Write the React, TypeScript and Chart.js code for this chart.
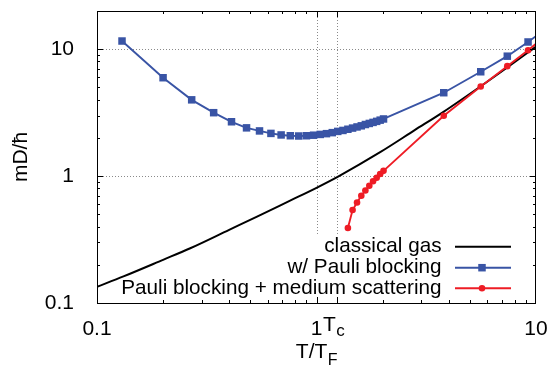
import { useEffect, useRef } from 'react';
import { Chart, registerables } from 'chart.js';

Chart.register(...registerables);

// ---- data ----
const TC = 1.24; // critical temperature marker (T/T_F)
const GUIDE_Y_MIN = 0.35; // lower end of the dotted guide lines
const X_MIN = 0.1;
const X_MAX = 10;
const Y_MIN = 0.1;
const Y_MAX = 20;
const xTickLabels = [0.1, 1, 10];
const yTickLabels = [0.1, 1, 10];

const classicalT = [0.1, 0.132, 0.2, 0.266, 0.4, 0.536, 0.75, 1.0, 1.26, 1.95, 2.8, 3.79, 5.57, 7.42, 10];
const classicalD = [0.134, 0.162, 0.219, 0.27, 0.377, 0.479, 0.635, 0.809, 0.996, 1.543, 2.3, 3.21, 5.07, 7.21, 10.47];

const pauliT = [0.13, 0.2, 0.27, 0.34, 0.41, 0.48, 0.55, 0.62, 0.69, 0.76, 0.83, 0.9, 0.97, 1.04, 1.11, 1.18, 1.25, 1.32, 1.39, 1.46, 1.53, 1.6, 1.67, 1.74, 1.81, 1.88, 1.95, 2.02, 3.8, 5.6, 7.4, 9.2, 11.0];
const pauliD = [11.6, 5.96, 3.99, 3.16, 2.68, 2.4, 2.27, 2.17, 2.11, 2.08, 2.07, 2.08, 2.1, 2.13, 2.16, 2.2, 2.25, 2.29, 2.34, 2.39, 2.44, 2.49, 2.55, 2.6, 2.65, 2.7, 2.76, 2.82, 4.54, 6.64, 8.81, 11.4, 14.3];

const mediumT = [1.39, 1.46, 1.53, 1.6, 1.67, 1.74, 1.81, 1.88, 1.95, 2.02, 3.8, 5.6, 7.4, 9.2, 11.0];
const mediumD = [0.39, 0.54, 0.62, 0.7, 0.77, 0.84, 0.91, 0.97, 1.04, 1.1, 2.99, 5.08, 7.35, 9.82, 12.6];

const seriesLabels = ['classical gas', 'w/ Pauli blocking', 'Pauli blocking + medium scattering'];

const FONT = '"Liberation Sans", Arial, Helvetica, sans-serif';
const FS = 21;
const BLACK = '#000000';
const BLUE = '#3954a5';
const RED = '#ee1c25';

const zip = (xs: number[], ys: number[]) => xs.map((x, i) => ({ x, y: ys[i] }));

const noPad = (s: any) => {
  s.paddingTop = 0;
  s.paddingBottom = 0;
  s.paddingLeft = 0;
  s.paddingRight = 0;
};

const decorPlugin = {
  id: 'decor',
  beforeDatasetsDraw(chart: any) {
    const { ctx, chartArea: a, scales } = chart;
    const x = scales.x;
    const y = scales.y;
    ctx.save();
    const line = (x1: number, y1: number, x2: number, y2: number) => {
      ctx.beginPath();
      ctx.moveTo(x1, y1);
      ctx.lineTo(x2, y2);
      ctx.stroke();
    };
    ctx.strokeStyle = '#8a8a8a';
    ctx.lineWidth = 1;
    ctx.setLineDash([1, 2]);
    for (const v of [1, 10]) {
      const py = Math.round(y.getPixelForValue(v)) + 0.5;
      line(a.left, py, a.right, py);
    }
    const yb = y.getPixelForValue(GUIDE_Y_MIN);
    for (const v of [1, TC]) {
      const px = Math.round(x.getPixelForValue(v)) + 0.5;
      line(px, a.top, px, yb);
    }
    ctx.setLineDash([]);
    ctx.restore();
  },
  afterDatasetsDraw(chart: any) {
    const { ctx, chartArea: a, scales } = chart;
    const x = scales.x;
    const y = scales.y;
    ctx.save();
    const line = (x1: number, y1: number, x2: number, y2: number) => {
      ctx.beginPath();
      ctx.moveTo(x1, y1);
      ctx.lineTo(x2, y2);
      ctx.stroke();
    };
    ctx.strokeStyle = '#000';
    ctx.lineWidth = 1;
    for (const d of [0.1, 1]) {
      for (let m = 2; m <= 9; m++) {
        const px = Math.round(x.getPixelForValue(m * d)) + 0.5;
        line(px, a.bottom, px, a.bottom - 3);
        line(px, a.top, px, a.top + 3);
      }
    }
    for (const v of [1, TC]) {
      const px = Math.round(x.getPixelForValue(v)) + 0.5;
      line(px, a.bottom, px, a.bottom - 6);
      line(px, a.top, px, a.top + 6);
    }
    for (const d of [0.1, 1, 10]) {
      for (let m = 2; m <= 9; m++) {
        const v = m * d;
        if (v >= Y_MAX) continue;
        const py = Math.round(y.getPixelForValue(v)) + 0.5;
        line(a.left, py, a.left + 3, py);
        line(a.right, py, a.right - 3, py);
      }
    }
    for (const v of [1, 10]) {
      const py = Math.round(y.getPixelForValue(v)) + 0.5;
      line(a.left, py, a.left + 6, py);
      line(a.right, py, a.right - 6, py);
    }
    ctx.strokeRect(Math.round(a.left) + 0.5, Math.round(a.top) + 0.5, Math.round(a.right - a.left) - 1, Math.round(a.bottom - a.top));
    ctx.restore();
  },
  afterDraw(chart: any) {
    const { ctx, chartArea: a, scales } = chart;
    const x = scales.x;
    ctx.save();
    ctx.fillStyle = '#000';
    ctx.textBaseline = 'alphabetic';
    // Tc tick label
    const pc = x.getPixelForValue(TC);
    ctx.textAlign = 'left';
    ctx.font = `${FS}px ${FONT}`;
    const tw = ctx.measureText('T').width;
    ctx.fillText('T', pc - 14, a.bottom + 28);
    ctx.font = `17px ${FONT}`;
    ctx.fillText('c', pc - 14 + tw + 0.5, a.bottom + 33);
    // x title T/T_F
    ctx.font = `${FS}px ${FONT}`;
    const w1 = ctx.measureText('T/T').width;
    ctx.font = `16px ${FONT}`;
    const w2 = ctx.measureText('F').width;
    const cx = (a.left + a.right) / 2;
    const sx = cx - (w1 + w2) / 2;
    ctx.font = `${FS}px ${FONT}`;
    ctx.fillText('T/T', sx, a.bottom + 55);
    ctx.font = `16px ${FONT}`;
    ctx.fillText('F', sx + w1 + 0.5, a.bottom + 62);
    // legend
    const rowOffsets = [-56.3, -35.3, -14.7];
    const ds = chart.data.datasets;
    for (let i = 0; i < 3; i++) {
      const yy = a.bottom + rowOffsets[i];
      ctx.font = `20.7px ${FONT}`;
      ctx.textAlign = 'right';
      ctx.fillStyle = '#000';
      ctx.fillText(ds[i].label, a.right - 94.5, yy + 5.5);
      ctx.strokeStyle = ds[i].borderColor;
      ctx.lineWidth = ds[i].borderWidth;
      ctx.beginPath();
      ctx.moveTo(a.right - 81, yy);
      ctx.lineTo(a.right - 25, yy);
      ctx.stroke();
      const mx = a.right - 54;
      ctx.fillStyle = ds[i].borderColor;
      if (ds[i].pointStyle === 'rect') {
        ctx.fillRect(mx - 3.75, yy - 3.75, 7.5, 7.5);
      } else if (ds[i].pointRadius > 0) {
        ctx.beginPath();
        ctx.arc(mx, yy, ds[i].pointRadius, 0, Math.PI * 2);
        ctx.fill();
      }
    }
    ctx.restore();
  },
};

export default function App() {
  const ref = useRef<HTMLCanvasElement | null>(null);
  useEffect(() => {
    if (!ref.current) return;
    const chart = new Chart(ref.current, {
      type: 'scatter',
      data: {
        datasets: [
          {
            label: seriesLabels[0],
            data: zip(classicalT, classicalD),
            showLine: true,
            borderColor: BLACK,
            backgroundColor: BLACK,
            borderWidth: 2,
            pointRadius: 0,
            pointStyle: 'circle',
            cubicInterpolationMode: 'monotone',
            order: 2,
          },
          {
            label: seriesLabels[1],
            data: zip(pauliT, pauliD),
            showLine: true,
            borderColor: BLUE,
            backgroundColor: BLUE,
            borderWidth: 1.9,
            pointRadius: 5.3,
            pointBorderWidth: 0,
            pointStyle: 'rect',
            tension: 0,
            order: 1,
          },
          {
            label: seriesLabels[2],
            data: zip(mediumT, mediumD),
            showLine: true,
            borderColor: RED,
            backgroundColor: RED,
            borderWidth: 1.9,
            pointRadius: 3.3,
            pointBorderWidth: 0,
            pointStyle: 'circle',
            tension: 0,
            order: 0,
          },
        ],
      },
      options: {
        animation: false,
        responsive: false,
        events: [],
        layout: { padding: { top: 11, right: 13, left: 0, bottom: 0 } },
        plugins: { legend: { display: false }, tooltip: { enabled: false } },
        scales: {
          x: {
            type: 'logarithmic',
            min: X_MIN,
            max: X_MAX,
            grid: { display: false },
            border: { display: false },
            afterBuildTicks: (s: any) => {
              s.ticks = xTickLabels.map((v) => ({ value: v }));
            },
            afterFit: (s: any) => {
              s.height = 63;
              noPad(s);
            },
            ticks: {
              autoSkip: false,
              maxRotation: 0,
              padding: 6,
              color: '#000',
              font: { family: FONT, size: FS },
              callback: (v: any) => String(v),
            },
          },
          y: {
            type: 'logarithmic',
            min: Y_MIN,
            max: Y_MAX,
            grid: { display: false },
            border: { display: false },
            afterBuildTicks: (s: any) => {
              s.ticks = yTickLabels.map((v) => ({ value: v }));
            },
            afterFit: (s: any) => {
              s.width = 97;
              noPad(s);
            },
            title: {
              display: true,
              text: 'mD/ħ',
              color: '#000',
              font: { family: FONT, size: FS },
              padding: { top: 9, bottom: 0 },
            },
            ticks: {
              autoSkip: false,
              padding: 15,
              color: '#000',
              font: { family: FONT, size: FS },
              callback: (v: any) => String(v),
            },
          },
        },
      },
      plugins: [decorPlugin],
    } as any);
    return () => chart.destroy();
  }, []);
  return (
    <div style={{ position: 'fixed', left: 0, top: 0, width: 549, height: 366, background: '#fff' }}>
      <canvas ref={ref} width={549} height={366} style={{ display: 'block' }} />
    </div>
  );
}
